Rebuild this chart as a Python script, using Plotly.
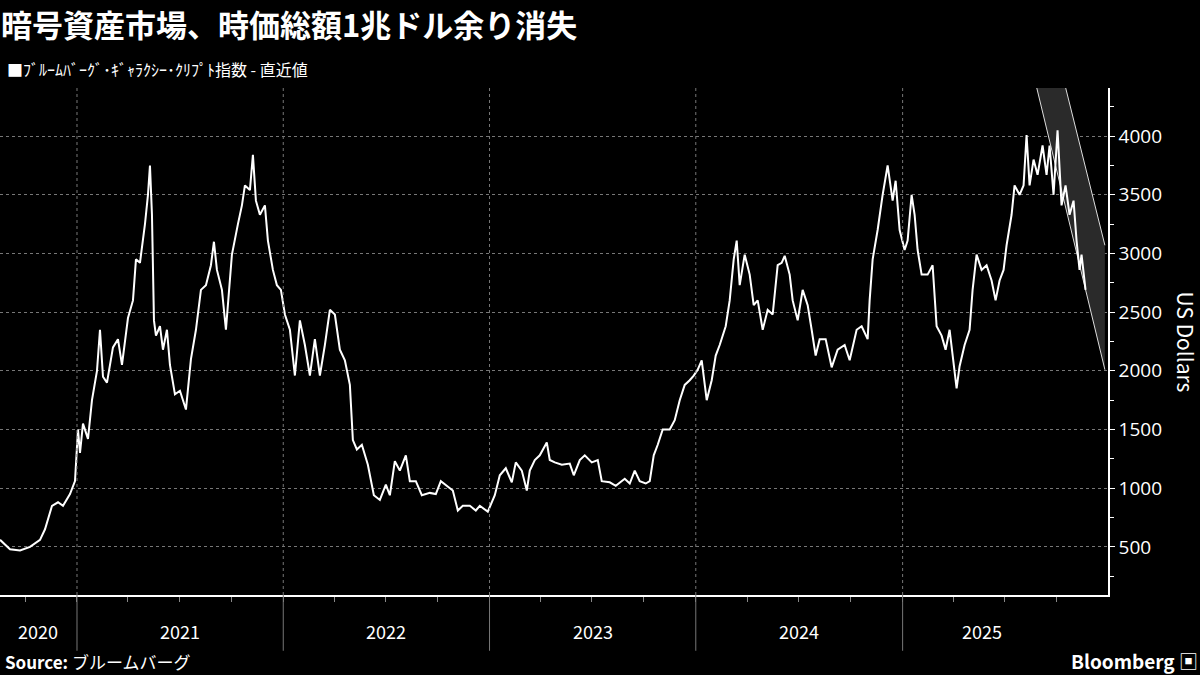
import plotly.graph_objects as go
import pandas as pd

# Decimal-year positions and index values (US Dollars)
xpix = [0,5,10,20,30,40,45,52,58,63,70,75,78,80,83,88,92,97,100,103,107,113,118,122,128,133,136,140,145,148,150,152,154,156,160,163,167,170,175,180,186,191,196,201,206,211,214,217,222,226,232,238,242,245,250,253,256,260,265,268,273,277,281,285,290,295,300,305,310,315,320,325,330,335,340,345,350,353,357,362,368,374,380,386,390,395,400,406,410,416,422,430,436,441,453,458,463,470,476,480,488,495,500,506,512,516,522,527,530,535,540,547,550,555,562,570,574,580,585,592,598,602,610,616,625,630,635,640,646,650,654,658,663,670,675,680,685,690,694,698,702,707,712,716,720,726,730,734,737,740,745,750,754,758,763,768,773,778,782,785,790,793,798,803,808,812,816,820,826,832,838,845,850,857,862,868,870,873,878,883,888,893,896,900,905,908,912,915,918,922,928,933,937,942,946,950,955,957,960,965,970,973,977,982,987,992,996,1000,1004,1007,1012,1015,1020,1024,1027,1030,1034,1038,1043,1047,1050,1054,1058,1062,1066,1070,1074,1077,1080,1082,1086]
values = [560,520,480,470,500,560,650,850,880,850,950,1060,1500,1300,1550,1420,1750,2000,2350,1950,1900,2200,2270,2050,2450,2600,2950,2920,3250,3500,3750,3330,2430,2300,2380,2180,2350,2050,1800,1830,1670,2100,2350,2690,2730,2900,3100,2860,2690,2350,2990,3250,3410,3580,3540,3840,3450,3330,3410,3110,2860,2730,2690,2480,2350,1960,2430,2220,1960,2270,1960,2220,2520,2480,2180,2090,1880,1410,1330,1370,1200,940,900,1030,940,1230,1150,1280,1060,1060,940,960,950,1060,980,810,850,850,810,850,800,940,1110,1170,1050,1220,1150,980,1150,1240,1280,1390,1240,1220,1200,1210,1110,1240,1280,1220,1240,1060,1050,1020,1080,1040,1150,1060,1040,1060,1280,1370,1500,1500,1580,1750,1880,1920,1960,2010,2090,1750,1920,2130,2220,2380,2600,2950,3110,2730,2990,2820,2560,2600,2350,2520,2480,2900,2920,2980,2820,2600,2430,2690,2560,2350,2130,2270,2270,2030,2180,2220,2090,2350,2380,2270,2600,2950,3200,3500,3750,3450,3620,3200,3030,3110,3500,3330,3030,2820,2820,2900,2380,2300,2180,2350,2000,1850,2040,2220,2350,2690,2990,2860,2900,2770,2600,2770,2860,3070,3330,3580,3500,3580,4010,3580,3800,3670,3920,3670,3920,3500,4050,3410,3580,3330,3450,3110,2860,2990,2690]
dec_years = [2021 + (p - 77) / 206.5 for p in xpix]

# Channel corners (decimal year, value)
chan_x = [2025.65, 2025.79, 2025.98, 2025.98, 2025.65]
chan_y = [4410, 4410, 3070, 2010, 4410]

years = [2020, 2021, 2022, 2023, 2024, 2025]
year_labels = ["2020", "2021", "2022", "2023", "2024", "2025"]
yticks = [500, 1000, 1500, 2000, 2500, 3000, 3500, 4000]

def to_date(d):
    return pd.Timestamp("2021-01-01") + pd.to_timedelta((d - 2021) * 365.25, unit="D")

dates = [to_date(d) for d in dec_years]
cx = [to_date(d) for d in chan_x]
x0, x1 = to_date(2020.627), to_date(2025.995)

fig = go.Figure()
fig.add_trace(go.Scatter(x=cx, y=chan_y, fill="toself", fillcolor="#2a2a2a",
                         mode="none", hoverinfo="skip", showlegend=False))
fig.add_trace(go.Scatter(x=[cx[0], cx[3]], y=[chan_y[0], chan_y[3]], mode="lines",
                         line=dict(color="#dddddd", width=1), showlegend=False))
fig.add_trace(go.Scatter(x=[cx[1], cx[2]], y=[chan_y[1], chan_y[2]], mode="lines",
                         line=dict(color="#dddddd", width=1), showlegend=False))
fig.add_trace(go.Scatter(x=dates, y=values, mode="lines",
                         line=dict(color="white", width=2), showlegend=False))

shapes = []
for y in years[1:]:
    d = pd.Timestamp(f"{y}-01-01")
    shapes.append(dict(type="line", xref="x", yref="paper", x0=d, x1=d, y0=0, y1=1,
                       line=dict(color="#777777", width=1, dash="dot")))
    shapes.append(dict(type="line", xref="x", yref="paper", x0=d, x1=d, y0=0, y1=-0.11,
                       line=dict(color="#777777", width=1)))
annotations = []
for y, lab in zip(years, year_labels):
    a = max(pd.Timestamp(f"{y}-01-01"), x0)
    b = pd.Timestamp(f"{y+1}-01-01") if y < 2025 else pd.Timestamp("2025-10-10")
    mid = a + (b - a) / 2
    if y == 2020:
        mid = to_date(2020.81)
    annotations.append(dict(x=mid, y=-0.1, xref="x", yref="paper", text=lab,
                            showarrow=False, font=dict(size=18, color="white")))

annotations += [
    dict(x=0, y=1, xref="paper", yref="paper", xanchor="left", yanchor="top",
         text="<b>暗号資産市場、時価総額1兆ドル余り消失</b>", showarrow=False,
         font=dict(size=31, color="white"), xshift=-1, yshift=89),
    dict(x=0, y=1, xref="paper", yref="paper", xanchor="left", yanchor="top",
         text="■ﾌﾞﾙｰﾑﾊﾞｰｸﾞ･ｷﾞｬﾗｸｼｰ･ｸﾘﾌﾟﾄ指数 - 直近値", showarrow=False,
         font=dict(size=16, color="white"), xshift=5, yshift=33),
    dict(x=0, y=0, xref="paper", yref="paper", xanchor="left", yanchor="top",
         text="<b>Source:</b> ブルームバーグ", showarrow=False,
         font=dict(size=17, color="white"), xshift=3, yshift=-52),
    dict(x=1, y=0, xref="paper", yref="paper", xanchor="right", yanchor="top",
         text="<b>Bloomberg</b> ▣", showarrow=False,
         font=dict(size=19, color="white"), xshift=92, yshift=-50),
    dict(x=1, y=0.5, xref="paper", yref="paper", xanchor="center", yanchor="middle",
         text="US Dollars", textangle=90, showarrow=False,
         font=dict(size=21, color="white"), xshift=78),
]

fig.update_layout(
    width=1200, height=675, paper_bgcolor="black", plot_bgcolor="black",
    margin=dict(l=0, r=92, t=88, b=80, autoexpand=False),
    font=dict(family="Noto Sans CJK JP, Noto Sans, sans-serif", color="white"),
    shapes=shapes, annotations=annotations,
    xaxis=dict(range=[x0, x1], showgrid=False, showticklabels=False, zeroline=False,
               showline=True, linecolor="white", linewidth=1.5, automargin=False,
               ticks="outside", tickcolor="#888", ticklen=5, dtick="M3",
               tick0="2020-01-01"),
    yaxis=dict(side="right", range=[90, 4410], tickvals=yticks, automargin=False,
               showgrid=True, gridcolor="#777777", griddash="dot", gridwidth=1,
               zeroline=False, showline=True, linecolor="white", linewidth=1.5,
               ticks="outside", tickcolor="white", ticklen=5,
               tickfont=dict(size=19, family="Open Sans, sans-serif"),
               minor=dict(dtick=250, ticks="outside", ticklen=4, tickcolor="white", showgrid=False)),
)
fig.write_html("out.html", config={"displayModeBar": False},
               post_script="document.body.style.margin='0';document.body.style.background='black';")
